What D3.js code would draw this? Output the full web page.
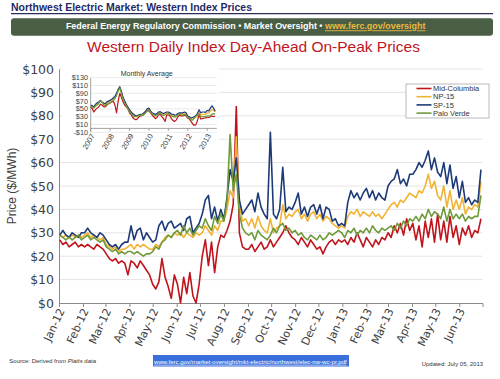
<!DOCTYPE html>
<html><head><meta charset="utf-8">
<script src="https://cdn.jsdelivr.net/npm/d3@7"></script>
<style>body{margin:0;background:#fff}svg{display:block}</style>
</head><body><svg id="c" width="500" height="379"></svg>
<script>
// ---------- DATA ----------
const seriesNames = ["Mid-Columbia", "NP-15", "SP-15", "Palo Verde"];
// daily index sampled every 4 days starting 2012-01-02
const dailyStart = "2012-01-02";
const dailyStepDays = 4;
const midColumbia = [
 27,25,26,24,25,26,24,25, 24,25,24,23,25,24,23, 21,19,18,19,17,18,17,12, 18,17,15,18,16,14,12,
 8,6,9,19,11,7,2,12, 8,0,11,4,13,3,0,8, 20,27,16,26,13,24,29, 28,31,35,42,84,30,24,23,
 23,25,22,24,26,23,24,27, 24,26,28,30,33,30,28, 27,25,28,26,24,27,25,23, 24,21,24,26,27,25,27,26,
 27,25,28,26,30,27,24, 28,26,24,27,25,28,27, 30,28,33,30,34,29,36,31, 34,27,33,24,35,28,36,26,
 38,27,35,26,37,28,33, 25,32,29,33,28,31,30,36];
const np15 = [
 29,28,29,28,29,28,29,28, 29,30,28,29,28,27,28, 25,24,23,24,22,23,23,24, 25,23,25,24,25,24,23,
 23,25,24,26,28,29,28,30, 29,30,28,30,29,28,30,29, 30,33,31,29,33,31,35, 35,40,48,45,71,42,35,36,
 33,36,32,37,33,31,30,36, 30,32,33,42,36,38,37, 39,40,36,38,35,38,39,36, 38,35,37,36,34,33,32,33,
 32,37,39,38,40,37,39, 38,37,39,37,38,36,38, 40,42,43,41,44,43,45,47, 46,45,48,47,50,55,49,52,
 46,44,50,41,48,40,44, 40,45,38,41,40,42,41,52];
const sp15 = [
 29,31,29,28,30,29,28,30, 30,32,30,29,28,30,29, 27,25,24,25,23,25,26,26, 33,27,31,32,27,30,28,
 26,27,33,35,31,34,35,32, 33,34,31,36,37,30,32,34, 38,44,46,36,41,35,40, 36,45,57,52,62,44,38,40,
 42,44,39,47,41,38,36,73, 38,36,40,58,39,41,40, 43,47,38,41,37,41,42,38, 42,36,41,40,35,36,33,34,
 33,43,48,45,47,44,47, 49,45,48,44,47,45,44, 50,52,53,57,51,53,50,55, 55,57,60,58,61,65,57,62,
 56,54,60,51,59,49,54, 45,52,43,45,42,44,43,57];
const paloVerde = [
 29,28,27,28,27,28,29,27, 28,29,27,28,27,26,27, 24,23,22,23,21,22,21,22, 22,21,22,21,20,21,21,
 22,24,23,26,27,29,28,30, 31,29,33,30,32,29,31,33, 32,36,33,31,37,34,38, 35,44,72,48,55,38,32,30,
 29,30,27,31,29,28,27,29, 32,30,33,34,31,32,30, 31,29,30,28,27,29,28,27, 29,27,28,30,29,30,31,30,
 28,31,30,32,29,31,30, 32,30,33,31,30,32,31, 32,33,31,34,32,35,33,36, 35,37,35,38,36,40,37,39,
 38,36,41,35,40,36,38, 36,38,35,37,36,37,37,46];
const yTicks = [0,10,20,30,40,50,60,70,80,90,100];
const xTickLabels = ["Jan-12","Feb-12","Mar-12","Apr-12","May-12","Jun-12","Jul-12","Aug-12","Sep-12",
 "Oct-12","Nov-12","Dec-12","Jan-13","Feb-13","Mar-13","Apr-13","May-13","Jun-13"];

// inset: monthly averages, Jan 2007 - Jun 2013
const monthlyStart = "2007-01-01";
const mMidC = [55,50,42,48,52,55,62,60,56,55,60,63, 65,68,70,60,40,70,90,80,68,60,55,50,
 40,35,28,24,22,25,30,32,33,36,42,45, 45,40,34,30,25,28,35,36,30,25,18,34,
 35,32,25,20,18,22,30,34,32,32,34,32, 26,24,18,12,8,9,20,35,24,25,26,27, 28,28,30,32,30,32];
const mNP15 = [58,56,54,60,63,66,70,66,63,61,66,68, 70,73,76,80,88,98,105,92,78,68,60,53,
 46,40,36,33,30,31,33,34,35,38,43,48, 50,43,38,35,33,35,40,40,38,36,38,40,
 40,38,34,32,30,32,36,38,38,38,40,38, 30,28,23,24,26,29,32,42,34,36,36,36, 40,40,44,49,46,42];
const mSP15 = [60,58,55,62,65,68,72,68,65,63,68,70, 72,75,78,82,90,100,107,95,80,70,62,55,
 48,42,38,35,32,33,35,36,37,40,45,50, 52,45,40,38,36,38,42,43,40,38,40,42,
 42,40,37,36,34,35,38,40,40,40,42,40, 32,30,26,28,30,33,38,48,40,42,42,41, 46,45,52,58,52,44];
const mPV = [56,55,52,57,60,64,70,68,60,58,62,64, 66,68,72,76,84,96,104,90,75,65,58,50,
 43,38,33,30,30,31,33,34,34,36,40,45, 48,42,36,33,32,34,38,38,35,33,35,37,
 38,36,32,30,29,31,35,36,35,34,36,35, 28,27,22,21,26,31,34,38,30,30,30,31, 32,32,33,36,38,37];
const insetYTicks = [-10,10,30,50,70,90,110,130];
const insetYears = ["2007","2008","2009","2010","2011","2012","2013"];

// ---------- STYLE ----------
const colors = ["#c0141c", "#f2b232", "#1d3a78", "#6f9a3a"];
const F = "'Liberation Sans', Arial, sans-serif";
const FD = "'DejaVu Sans', sans-serif";

const svg = d3.select("#c");
function fit(sel, w) {
  const l = sel.node().getComputedTextLength();
  sel.attr("font-size", parseFloat(sel.attr("font-size")) * w / l);
}

// ---------- HEADER ----------
svg.append("text").attr("x", 11).attr("y", 10.6).attr("font-family", F).attr("font-weight", "bold")
  .attr("font-size", 10).attr("fill", "#1f2a66").attr("textLength", 241).attr("lengthAdjust", "spacingAndGlyphs")
  .text("Northwest Electric Market: Western Index Prices");
svg.append("line").attr("x1", 11).attr("x2", 493).attr("y1", 13.6).attr("y2", 13.6).attr("stroke", "#2b2f55").attr("stroke-width", 1.3);
svg.append("rect").attr("x", 11).attr("y", 18.3).attr("width", 482).attr("height", 17.4).attr("rx", 3).attr("fill", "#4a5e46");
const ban = svg.append("text").attr("x", 245.7).attr("y", 29.3).attr("text-anchor", "middle")
  .attr("font-family", F).attr("font-weight", "bold").attr("font-size", 8.5);
ban.append("tspan").attr("fill", "#fff").text("Federal Energy Regulatory Commission \u2022 Market Oversight \u2022 ");
ban.append("tspan").attr("fill", "#e9b93c").attr("text-decoration", "underline").text("www.ferc.gov/oversight");
fit(ban, 360);
const title = svg.append("text").attr("x", 253.5).attr("y", 51.6).attr("text-anchor", "middle")
  .attr("font-family", F).attr("font-size", 16).attr("fill", "#c0161e")
  .text("Western Daily Index Day-Ahead On-Peak Prices");
fit(title, 333);

// ---------- MAIN CHART ----------
const x = d3.scaleTime().domain([new Date(2012, 0, 1), new Date(2013, 6, 1)]).range([59, 482.5]);
const y = d3.scaleLinear().domain([0, 100]).range([303, 69]);

svg.append("g").selectAll("line").data(yTicks.slice(1)).join("line")
  .attr("x1", 59).attr("x2", 482.5).attr("y1", d => y(d)).attr("y2", d => y(d))
  .attr("stroke", "#e4e4e4").attr("stroke-width", 1);

const ya = svg.append("g").attr("transform", "translate(59,0)")
  .call(d3.axisLeft(y).tickValues(yTicks).tickSize(0).tickPadding(5).tickFormat(d => "$" + d));
ya.select(".domain").attr("stroke", "#8c8c8c");
ya.selectAll("text").attr("font-family", FD).attr("font-size", 12.5).attr("fill", "#404040");

const monthTicks = d3.timeMonth.range(new Date(2012, 0, 1), new Date(2013, 5, 2));
const xa = svg.append("g").attr("transform", "translate(0,303)")
  .call(d3.axisBottom(x).tickValues(monthTicks).tickSize(4).tickFormat((d, i) => xTickLabels[i]));
xa.select(".domain").attr("stroke", "#8c8c8c");
xa.selectAll(".tick line").attr("stroke", "#8c8c8c");
xa.selectAll("text").attr("font-family", FD).attr("font-size", 11).attr("fill", "#404040")
  .attr("text-anchor", "end").attr("x", 0).attr("y", 0).attr("dy", "0.35em")
  .attr("transform", "translate(2,6) rotate(-65)");

svg.append("text").attr("transform", "translate(16,186) rotate(-90)").attr("text-anchor", "middle")
  .attr("font-family", F).attr("font-size", 12).attr("fill", "#404040").text("Price ($/MWh)");

const start = d3.timeParse("%Y-%m-%d")(dailyStart);
const dailySeries = [midColumbia, np15, sp15, paloVerde].map(arr =>
  arr.map((v, i) => ({ date: d3.timeDay.offset(start, i * dailyStepDays), v })));
const line = d3.line().x(d => x(d.date)).y(d => y(d.v));
svg.append("g").selectAll("path").data(dailySeries).join("path")
  .attr("d", line).attr("fill", "none").attr("stroke", (d, i) => colors[i])
  .attr("stroke-width", 1.6).attr("stroke-linejoin", "round");

// legend
const lg = svg.append("g");
lg.append("rect").attr("x", 406).attr("y", 84).attr("width", 83).attr("height", 34)
  .attr("fill", "#fff").attr("stroke", "#a8a8a8").attr("stroke-width", 0.8);
seriesNames.forEach((n, i) => {
  const yy = 88.5 + i * 8.2;
  lg.append("line").attr("x1", 416.5).attr("x2", 431.5).attr("y1", yy).attr("y2", yy)
    .attr("stroke", colors[i]).attr("stroke-width", 1.6);
  lg.append("text").attr("x", 433).attr("y", yy + 2.6).attr("font-family", F).attr("font-size", 7.5)
    .attr("fill", "#333").text(n);
});

// ---------- INSET ----------
const ins = svg.append("g");
ins.append("rect").attr("x", 62).attr("y", 65).attr("width", 157).attr("height", 96).attr("fill", "#fff");
const xi = d3.scaleTime().domain([new Date(2007, 0, 1), new Date(2013, 6, 1)]).range([90.7, 216.8]);
const yi = d3.scaleLinear().domain([-10, 130]).range([132.3, 77.7]);
ins.append("g").selectAll("line").data(insetYTicks).join("line")
  .attr("x1", 90.7).attr("x2", 216.8).attr("y1", d => yi(d)).attr("y2", d => yi(d))
  .attr("stroke", "#e6e6e6").attr("stroke-width", 0.8);
ins.append("line").attr("x1", 90.7).attr("x2", 90.7).attr("y1", yi(130)).attr("y2", yi(-10)).attr("stroke", "#8c8c8c").attr("stroke-width", 0.8);
ins.append("line").attr("x1", 90.7).attr("x2", 216.8).attr("y1", yi(0)).attr("y2", yi(0)).attr("stroke", "#8c8c8c").attr("stroke-width", 0.8);
ins.append("g").selectAll("text").data(insetYTicks).join("text")
  .attr("x", 88).attr("y", d => yi(d) + 2.5).attr("text-anchor", "end")
  .attr("font-family", F).attr("font-size", 7.3).attr("fill", "#404040")
  .text(d => (d < 0 ? "-$" + (-d) : "$" + d));
const yearDates = insetYears.map(s => new Date(+s, 0, 1));
ins.append("g").selectAll("line").data(yearDates).join("line")
  .attr("x1", d => xi(d)).attr("x2", d => xi(d)).attr("y1", yi(0)).attr("y2", yi(0) + 2.5)
  .attr("stroke", "#8c8c8c").attr("stroke-width", 0.8);
ins.append("g").selectAll("text").data(yearDates).join("text")
  .attr("transform", d => `translate(${xi(d) + 2},${yi(-10) + 2}) rotate(-60)`)
  .attr("text-anchor", "end").attr("dy", "0.35em")
  .attr("font-family", F).attr("font-size", 7.5).attr("fill", "#404040")
  .text((d, i) => insetYears[i]);
ins.append("text").attr("x", 146.7).attr("y", 75.6).attr("text-anchor", "middle")
  .attr("font-family", F).attr("font-size", 7).attr("fill", "#333").text("Monthly Average");
const mStart = d3.timeParse("%Y-%m-%d")(monthlyStart);
const monthlySeries = [mMidC, mNP15, mSP15, mPV].map(arr =>
  arr.map((v, i) => ({ date: d3.timeMonth.offset(mStart, i), v })));
const lineI = d3.line().x(d => xi(d.date)).y(d => yi(d.v));
ins.append("g").selectAll("path").data(monthlySeries).join("path")
  .attr("d", lineI).attr("fill", "none").attr("stroke", (d, i) => colors[i])
  .attr("stroke-width", 1.2).attr("stroke-linejoin", "round");

// ---------- FOOTER ----------
const src = svg.append("text").attr("x", 9.3).attr("y", 363).attr("font-family", F).attr("font-size", 6).attr("fill", "#333");
src.append("tspan").text("Source: Derived from ");
src.append("tspan").attr("font-style", "italic").text("Platts");
src.append("tspan").text(" data");
fit(src, 87);
svg.append("rect").attr("x", 153).attr("y", 355).attr("width", 196).attr("height", 11.5).attr("fill", "#3b6fdc");
const lnk = svg.append("text").attr("x", 154).attr("y", 363.8).attr("font-family", F).attr("font-size", 7)
  .attr("fill", "#fff").attr("text-decoration", "underline")
  .text("www.ferc.gov/market-oversight/mkt-electric/northwest/elec-nw-wc-pr.pdf");
fit(lnk, 193);
const upd = svg.append("text").attr("x", 421.7).attr("y", 365.5).attr("font-family", F).attr("font-size", 6.5)
  .attr("fill", "#333").text("Updated: July 05, 2013");
fit(upd, 61.5);
</script></body></html>
